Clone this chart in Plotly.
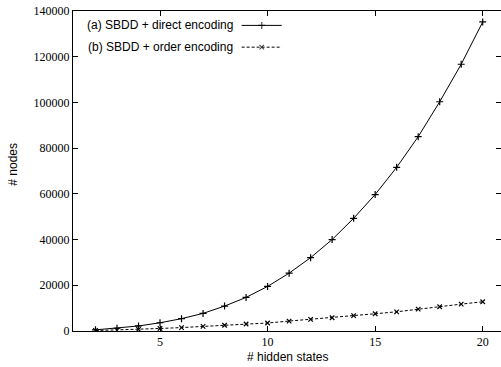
import plotly.graph_objects as go

states = list(range(2, 21))
direct_nodes = [500, 1200, 2200, 3600, 5400, 7700, 10900, 14700, 19500, 25300,
                32100, 40000, 49300, 59700, 71600, 85000, 100300, 116700, 135200]
order_nodes = [200, 400, 700, 1100, 1500, 2000, 2500, 3050, 3500, 4350,
               5100, 5800, 6700, 7550, 8400, 9600, 10600, 11750, 12800]
series_names = ["(a) SBDD + direct encoding", "(b) SBDD + order encoding"]
x_ticks = [5, 10, 15, 20]
y_ticks = [0, 20000, 40000, 60000, 80000, 100000, 120000, 140000]
y_tick_text = [str(v) for v in y_ticks]

fig = go.Figure()
fig.add_trace(go.Scatter(
    x=states, y=direct_nodes, mode="lines+markers", name=series_names[0],
    line=dict(color="black", width=1),
    marker=dict(symbol="cross-thin-open", size=5, line=dict(color="black", width=1.2)),
    showlegend=False))
fig.add_trace(go.Scatter(
    x=states, y=order_nodes, mode="lines+markers", name=series_names[1],
    line=dict(color="black", width=1, dash="3px,2px"),
    marker=dict(symbol="x-thin-open", size=4.5, line=dict(color="black", width=1.2)),
    showlegend=False))

# legend samples (gnuplot style: text then line sample), on an overlay 0..1 axis
leg_y = [0.955, 0.887]
sample_x = [0.394, 0.441, 0.4876]
fig.add_trace(go.Scatter(
    x=sample_x, y=[leg_y[0]] * 3, xaxis="x2", yaxis="y2", mode="lines+markers",
    line=dict(color="black", width=1),
    marker=dict(symbol="cross-thin-open", size=[0, 5, 0], line=dict(color="black", width=1.2)),
    showlegend=False, hoverinfo="skip"))
fig.add_trace(go.Scatter(
    x=sample_x, y=[leg_y[1]] * 3, xaxis="x2", yaxis="y2", mode="lines+markers",
    line=dict(color="black", width=1, dash="3px,2px"),
    marker=dict(symbol="x-thin-open", size=[0, 4.5, 0], line=dict(color="black", width=1.2)),
    showlegend=False, hoverinfo="skip"))

for name, yy in zip(series_names, leg_y):
    fig.add_annotation(x=0.3785, y=yy, xref="paper", yref="paper", text=name,
                       showarrow=False, xanchor="right", yanchor="middle",
                       font=dict(family="Liberation Sans, Arial", size=12, color="black"))

serif = dict(family="Liberation Serif, Times New Roman", size=12, color="black")
sans = dict(family="Liberation Sans, Arial", size=12, color="black")

# axis titles as annotations so they don't push the margins
fig.add_annotation(x=0.5, y=-0.082, xref="paper", yref="paper", text="# hidden states",
                   showarrow=False, xanchor="center", yanchor="middle", font=sans)
fig.add_annotation(x=-0.14, y=0.52, xref="paper", yref="paper", text="# nodes",
                   showarrow=False, xanchor="center", yanchor="middle", textangle=-90, font=sans)

fig.update_layout(
    width=501, height=367,
    margin=dict(l=73, r=0, t=11, b=36, autoexpand=False),
    paper_bgcolor="white", plot_bgcolor="white",
    xaxis=dict(range=[0.955, 20.85], tickvals=x_ticks, ticks="inside", ticklen=5,
               tickcolor="black", showline=True, linecolor="black", linewidth=1,
               mirror="ticks", showgrid=False, zeroline=False, tickfont=serif,
               automargin=False),
    yaxis=dict(range=[0, 140000], tickvals=y_ticks, ticktext=y_tick_text, ticks="inside",
               ticklen=5, tickcolor="black", showline=True, linecolor="black", linewidth=1,
               mirror="ticks", showgrid=False, zeroline=False, tickfont=serif,
               automargin=False),
    xaxis2=dict(range=[0, 1], overlaying="x", visible=False, fixedrange=True),
    yaxis2=dict(range=[0, 1], overlaying="y", visible=False, fixedrange=True),
)

fig.write_html("out.html", config={"displayModeBar": False},
               post_script="document.body.style.margin='0';document.body.style.padding='0';")
